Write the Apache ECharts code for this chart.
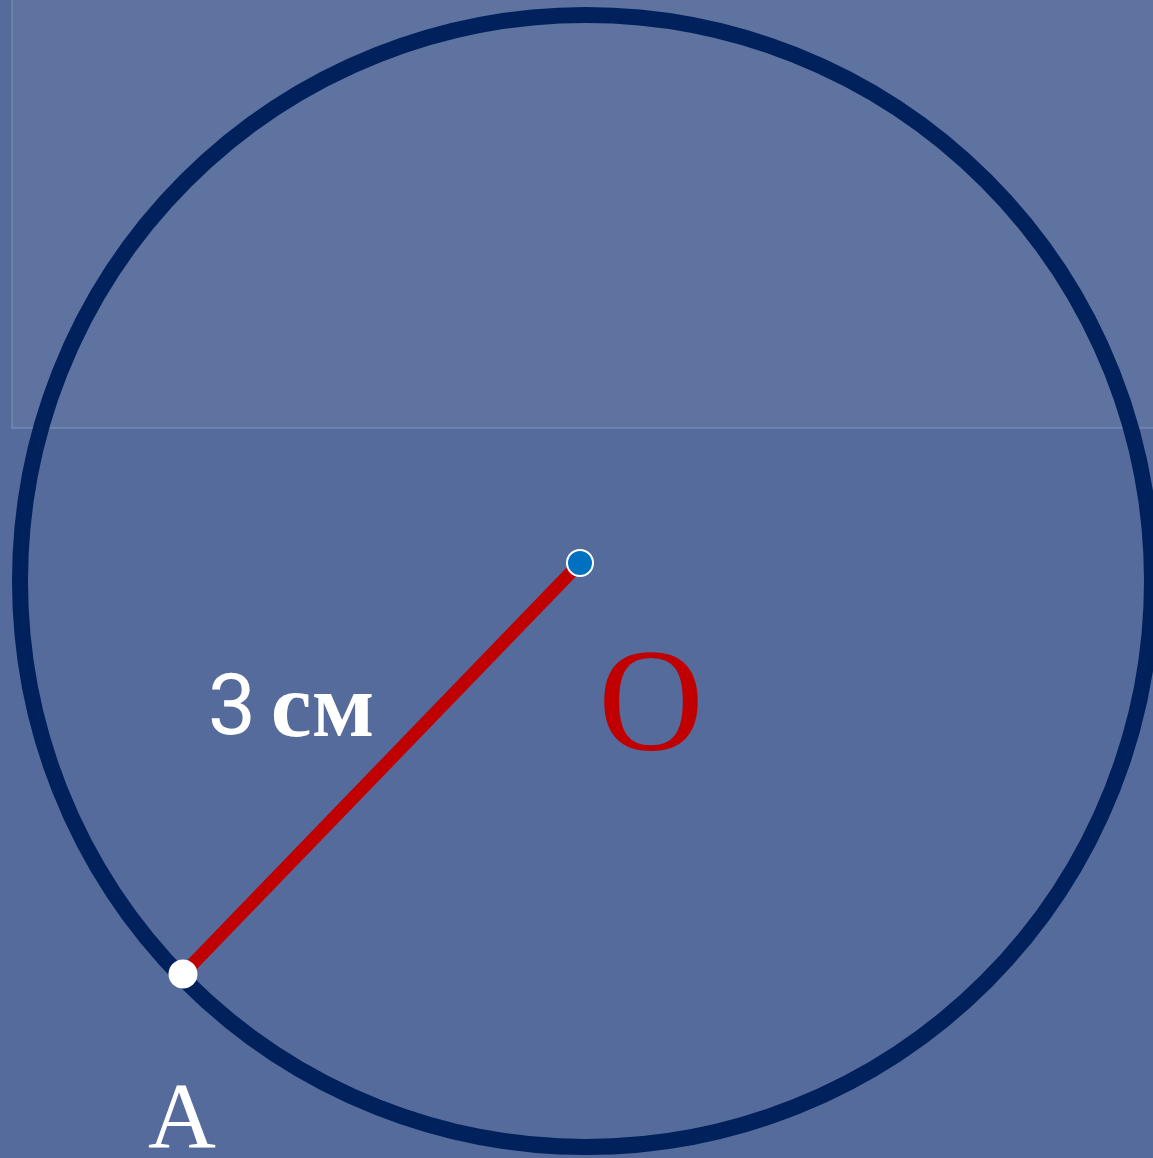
<!DOCTYPE html>
<html>
<head>
<meta charset="utf-8">
<script src="https://cdn.jsdelivr.net/npm/echarts@6/dist/echarts.min.js"></script>
<style>
  html, body { margin: 0; padding: 0; background: #556b9b; }
  #main { width: 1153px; height: 1158px; }
</style>
</head>
<body>
<div id="main"></div>
<script>
// координаты в пикселях картинки
var circleCenter = [586, 581];
var circleRadius = 566;
var pointO = [580, 563];
var pointA = [183, 974];
var pointNames = ['O', 'A'];
var labelPos = { cm: [291, 712], O: [651, 712], A: [182, 1122] };
var panel = [12, 0, 1153, 428]; // x1, y1, x2, y2

var serif = 'Liberation Serif';
var sans = 'Roboto';

var chart = echarts.init(document.getElementById('main'));

var option = {
  backgroundColor: '#556b9b',
  animation: false,
  grid: { left: 0, right: 0, top: 0, bottom: 0 },
  xAxis: { type: 'value', min: 0, max: 1153, show: false },
  yAxis: { type: 'value', min: 0, max: 1158, inverse: true, show: false },
  series: [
    // светлая панель сверху
    {
      type: 'custom',
      z: 1,
      data: [panel],
      renderItem: function (params, api) {
        var p1 = api.coord([api.value(0), api.value(1)]);
        var p2 = api.coord([api.value(2), api.value(3)]);
        return {
          type: 'rect',
          shape: { x: p1[0], y: p1[1] - 2, width: p2[0] - p1[0] + 2, height: p2[1] - p1[1] + 2 },
          style: { fill: '#5e73a0', stroke: '#7488b3', lineWidth: 1.5 }
        };
      }
    },
    // окружность
    {
      type: 'custom',
      z: 2,
      data: [[circleCenter[0], circleCenter[1], circleRadius]],
      renderItem: function (params, api) {
        var c = api.coord([api.value(0), api.value(1)]);
        var r = api.size([api.value(2), 0])[0];
        return {
          type: 'circle',
          shape: { cx: c[0], cy: c[1], r: r },
          style: { fill: 'none', stroke: '#00215c', lineWidth: 16 }
        };
      }
    },
    // радиус OA
    {
      type: 'line',
      z: 3,
      data: [pointA, pointO],
      symbol: 'none',
      lineStyle: { color: '#c00000', width: 13, opacity: 1 }
    },
    // точка O
    {
      type: 'scatter',
      z: 4,
      data: [pointO],
      symbolSize: 26,
      itemStyle: { color: '#0070c0', borderColor: '#ffffff', borderWidth: 2, opacity: 1 }
    },
    // точка A
    {
      type: 'scatter',
      z: 4,
      data: [pointA],
      symbolSize: 29,
      itemStyle: { color: '#ffffff', opacity: 1 }
    },
    // подписи
    {
      type: 'scatter',
      z: 5,
      symbolSize: 1,
      silent: true,
      itemStyle: { opacity: 1, color: 'rgba(0,0,0,0)' },
      data: [
        { value: labelPos.cm, label: {
            show: true, position: 'inside', opacity: 1,
            formatter: '{a|3}{s| }{b|см}',
            rich: {
              a: { fontFamily: sans, fontSize: 86, color: '#ffffff' },
              s: { fontFamily: sans, fontSize: 60, color: '#ffffff' },
              b: { fontFamily: serif, fontWeight: 'bold', fontSize: 92, color: '#ffffff' }
            }
          } },
        { value: labelPos.O, label: {
            show: true, position: 'inside', opacity: 1, formatter: pointNames[0],
            fontFamily: serif, fontSize: 146, color: '#c00000'
          } },
        { value: labelPos.A, label: {
            show: true, position: 'inside', opacity: 1, formatter: pointNames[1],
            fontFamily: serif, fontSize: 94, color: '#ffffff'
          } }
      ]
    }
  ]
};

chart.setOption(option);
</script>
</body>
</html>
